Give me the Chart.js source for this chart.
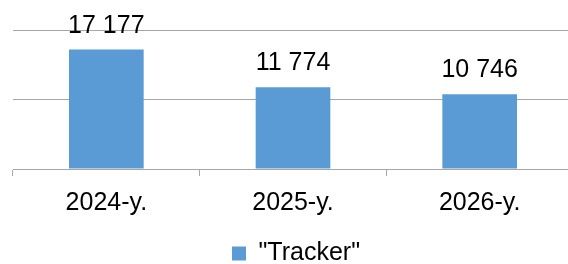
<!DOCTYPE html>
<html>
<head>
<meta charset="utf-8">
<script src="https://cdn.jsdelivr.net/npm/chart.js@4"></script>
<style>
  html, body { margin: 0; padding: 0; background: #fff; overflow: hidden; }
  #wrap { width: 573px; height: 264px; position: relative; }
</style>
</head>
<body>
<div id="wrap"><canvas id="chart"></canvas></div>
<script>
const categories = ['2024-y.', '2025-y.', '2026-y.'];
const trackerValues = [17177, 11774, 10746];
const seriesName = '"Tracker"';
const yTicks = [0, 10000, 20000];

const FONT = 'Arial, "Liberation Sans", sans-serif';
const GRID = '#a6a6a6';

// draws the value above each bar, with a space as thousands separator
const valueLabels = {
  id: 'valueLabels',
  afterDatasetsDraw(chart) {
    const ctx = chart.ctx;
    ctx.save();
    ctx.font = '25px ' + FONT;
    ctx.fillStyle = '#000';
    ctx.textAlign = 'center';
    ctx.textBaseline = 'alphabetic';
    chart.getDatasetMeta(0).data.forEach((bar, i) => {
      const txt = String(trackerValues[i]).replace(/\B(?=(\d{3})+(?!\d))/g, ' ');
      ctx.fillText(txt, bar.x, bar.y - 17);
    });
    ctx.restore();
  }
};

// legend sits lower (and a touch right) of where chart.js would put it
const legendShift = {
  id: 'legendShift',
  afterLayout(chart) {
    chart.legend.top += 12;
    chart.legend.bottom += 12;
    chart.legend.left += 3;
    chart.legend.right += 3;
  }
};

new Chart(document.getElementById('chart'), {
  type: 'bar',
  data: {
    labels: categories,
    datasets: [{
      label: seriesName,
      data: trackerValues,
      backgroundColor: '#5b9bd5',
      borderWidth: 0,
      categoryPercentage: 1,
      barPercentage: 0.4
    }]
  },
  options: {
    animation: false,
    responsive: true,
    maintainAspectRatio: false,
    layout: { padding: { left: 13, top: 30, right: 0, bottom: 0 } },
    plugins: {
      tooltip: { enabled: false },
      legend: {
        position: 'bottom',
        labels: {
          color: '#000',
          font: { family: FONT, size: 25 },
          boxWidth: 14,
          boxHeight: 14,
          padding: 10
        }
      }
    },
    scales: {
      x: {
        grid: { offset: true, drawOnChartArea: false, drawTicks: true, tickLength: 7, color: GRID, tickColor: GRID },
        border: { display: true, color: GRID, width: 1 },
        ticks: { color: '#000', font: { family: FONT, size: 25 }, padding: 12, maxRotation: 0 },
        afterFit: s => { s.height = 50; }
      },
      y: {
        min: 0,
        max: 20000,
        afterBuildTicks: s => { s.ticks = yTicks.map(v => ({ value: v })); },
        grid: { color: GRID, drawTicks: false },
        border: { display: false },
        ticks: { display: false },
        afterFit: s => { s.width = 0; }
      }
    }
  },
  plugins: [valueLabels, legendShift]
});
</script>
</body>
</html>
